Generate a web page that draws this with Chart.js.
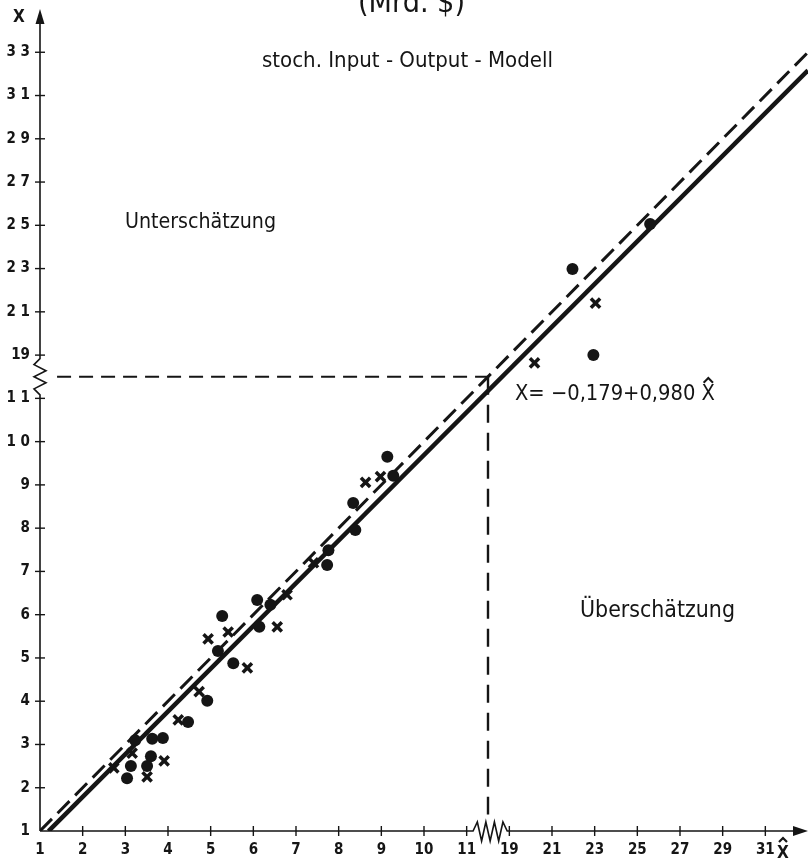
<!DOCTYPE html>
<html><head><meta charset="utf-8">
<script src="https://cdn.jsdelivr.net/npm/chart.js@4/dist/chart.umd.min.js"></script>
<style>html,body{margin:0;padding:0;background:#fff}#wrap{width:808px;height:864px;position:relative}</style>
</head><body><div id="wrap"><canvas id="c"></canvas></div>
<script>
// ---- data (original units, Mrd. $) ----
const xTickValues = [1,2,3,4,5,6,7,8,9,10,11,19,21,23,25,27,29,31];
const xTickLabels = ['1','2','3','4','5','6','7','8','9','10','11','19','21','23','25','27','29','31'];
const yTickValues = [1,2,3,4,5,6,7,8,9,10,11,19,21,23,25,27,29,31,33];
const yTickLabels = ['1','2','3','4','5','6','7','8','9','1 0','1 1','19','2 1','2 3','2 5','2 7','2 9','3 1','3 3'];

const dotXhat = [4.92,4.47,3.23,3.63,3.88,3.60,3.13,3.51,3.04,6.09,6.40,5.27,6.14,5.17,5.53,9.14,9.28,8.34,8.39,7.76,7.73,25.6,21.96,22.94];
const dotX    = [4.01,3.52,3.10,3.13,3.15,2.73,2.50,2.50,2.22,6.34,6.23,5.97,5.72,5.16,4.88,9.65,9.21,8.58,7.96,7.49,7.15,25.06,22.98,19.0];

const crossXhat = [4.73,4.24,3.16,3.91,2.73,3.51,6.79,6.56,5.41,4.94,5.86,8.98,8.63,7.41,23.04,20.18];
const crossX    = [4.22,3.57,2.80,2.62,2.46,2.25,6.46,5.72,5.60,5.44,4.77,9.19,9.06,7.20,21.4,18.64];

const regIntercept = -0.179;
const regSlope = 0.980;
const lineXhatRange = [1.2, 33];
const diagRange = [1, 33];

// broken axis: 1..11 at full scale, 19.. at half scale
function brk(v){ return v <= 15 ? v : 12 + (v - 19) / 2; }
const BREAK_T = 11.5;

const dotData = dotXhat.map((v,i)=>({x:brk(v), y:brk(dotX[i])}));
const crossData = crossXhat.map((v,i)=>({x:brk(v), y:brk(crossX[i])}));
const regData = lineXhatRange.map(v=>({x:brk(v), y:brk(regIntercept + regSlope*v)}));
const diagData = diagRange.map(v=>({x:brk(v), y:brk(v)}));

const INK = '#151515';
const tickFont = {family:"'DejaVu Sans Condensed','DejaVu Sans',sans-serif", size:15, weight:'bold'};
const textFam = "'DejaVu Sans Condensed','DejaVu Sans',sans-serif";

function fitText(ctx, str, x, baseline, width, weight){
  ctx.font = (weight||'') + ' 20px ' + textFam;
  const w = ctx.measureText(str).width;
  const size = 20 * width / w;
  ctx.font = (weight||'') + ' ' + size.toFixed(2) + 'px ' + textFam;
  ctx.textAlign = 'left'; ctx.textBaseline = 'alphabetic';
  ctx.fillText(str, x, baseline);
  return size;
}
function hat(ctx, cx, top, w, lw){
  ctx.save(); ctx.lineWidth = lw; ctx.lineJoin='miter';
  ctx.beginPath(); ctx.moveTo(cx - w/2, top + w*0.5); ctx.lineTo(cx, top); ctx.lineTo(cx + w/2, top + w*0.5); ctx.stroke();
  ctx.restore();
}

const decor = {
  id:'decor',
  beforeDatasetsDraw(chart){
    const {ctx, chartArea:ca} = chart;
    const xs = chart.scales.x, ys = chart.scales.y;
    const x0 = xs.getPixelForValue(1), y0 = ys.getPixelForValue(1);
    const yTop = ys.getPixelForValue(20);
    ctx.save();
    ctx.strokeStyle = INK; ctx.fillStyle = INK; ctx.lineWidth = 1.6; ctx.lineJoin='miter';
    // y axis with break
    const yA = ys.getPixelForValue(11.08), yB = ys.getPixelForValue(11.92);
    ctx.beginPath(); ctx.moveTo(x0, y0); ctx.lineTo(x0, yA);
    const n = 6;
    for (let i=1;i<n;i++){ ctx.lineTo(x0 + (i%2 ? -6 : 6), yA + (yB-yA)*i/n); }
    ctx.lineTo(x0, yB); ctx.lineTo(x0, yTop + 10); ctx.stroke();
    // y arrow
    ctx.beginPath(); ctx.moveTo(x0, yTop); ctx.lineTo(x0-4.5, yTop+15); ctx.lineTo(x0+4.5, yTop+15); ctx.closePath(); ctx.fill();
    // x axis with break
    const xA = xs.getPixelForValue(11.15), xB = xs.getPixelForValue(11.95);
    ctx.beginPath(); ctx.moveTo(x0, y0); ctx.lineTo(xA, y0);
    const m = 8;
    for (let i=1;i<m;i++){ ctx.lineTo(xA + (xB-xA)*i/m, y0 + (i%2 ? -9 : 10)); }
    ctx.lineTo(xB, y0); ctx.lineTo(ca.right - 10, y0); ctx.stroke();
    // x arrow
    ctx.beginPath(); ctx.moveTo(ca.right, y0); ctx.lineTo(ca.right-15, y0-5); ctx.lineTo(ca.right-15, y0+5); ctx.closePath(); ctx.fill();
    // crossing ticks
    ctx.lineWidth = 1.4;
    xs.ticks.forEach(t=>{ if (t.value<=1) return; const p = xs.getPixelForValue(t.value); ctx.beginPath(); ctx.moveTo(p, y0-5); ctx.lineTo(p, y0+5); ctx.stroke(); });
    ys.ticks.forEach(t=>{ if (t.value<=1) return; const p = ys.getPixelForValue(t.value); ctx.beginPath(); ctx.moveTo(x0-5, p); ctx.lineTo(x0+5, p); ctx.stroke(); });
    // guide lines at the break
    const bx = xs.getPixelForValue(BREAK_T), by = ys.getPixelForValue(BREAK_T);
    ctx.lineWidth = 2; ctx.setLineDash([14, 8]);
    ctx.beginPath(); ctx.moveTo(xs.getPixelForValue(1.4), by); ctx.lineTo(bx, by); ctx.stroke();
    ctx.lineWidth = 2.4; ctx.setLineDash([18, 10]);
    ctx.beginPath(); ctx.moveTo(bx, by); ctx.lineTo(bx, ys.getPixelForValue(1.38)); ctx.stroke();
    ctx.setLineDash([]);
    ctx.restore();
  },
  afterDraw(chart){
    const {ctx} = chart;
    ctx.save(); ctx.fillStyle = INK; ctx.strokeStyle = INK;
    fitText(ctx, '(Mrd. $)', 358, 12, 107, '');
    fitText(ctx, 'stoch. Input - Output - Modell', 262, 67, 291, '');
    fitText(ctx, 'Unterschätzung', 125, 228, 151, '');
    fitText(ctx, 'Überschätzung', 580, 617, 155, '');
    // equation
    const eq = 'X= \u22120,179+0,980 X';
    fitText(ctx, eq, 515, 400, 200, '');
    const w = ctx.measureText('X').width;
    hat(ctx, 715 - w/2, 378, w*0.7, 2);
    // axis titles
    ctx.font = 'bold 17px ' + textFam; ctx.textAlign='center'; ctx.textBaseline='alphabetic';
    ctx.fillText('X', 19, 22);
    ctx.fillText('X', 783, 858);
    hat(ctx, 783, 838, 8, 2.2);
    ctx.restore();
  }
};

new Chart(document.getElementById('c'), {
  type:'scatter',
  data:{datasets:[
    {label:'Regression', data:regData, showLine:true, borderColor:INK, borderWidth:4.5, pointRadius:0, order:3},
    {label:'X = X̂', data:diagData, showLine:true, borderColor:INK, borderWidth:3, borderDash:[17,8], pointRadius:0, order:3},
    {label:'dots', data:dotData, pointStyle:'circle', pointRadius:6, backgroundColor:INK, borderColor:INK, borderWidth:0, order:1},
    {label:'crosses', data:crossData, pointStyle:'crossRot', pointRadius:6.5, borderColor:INK, borderWidth:3.5, order:1}
  ]},
  options:{
    responsive:true, maintainAspectRatio:false, animation:false,
    layout:{autoPadding:false, padding:{top:9, right:0, left:0, bottom:0}},
    plugins:{legend:{display:false}, tooltip:{enabled:false}},
    scales:{
      x:{type:'linear', min:1, max:19,
        afterBuildTicks:s=>{ s.ticks = xTickValues.map(v=>({value:brk(v)})); },
        afterFit:s=>{ s.height = 33; s.paddingLeft = 0; s.paddingRight = 0; s.paddingTop = 0; s.paddingBottom = 0; },
        ticks:{callback:(v,i)=>xTickLabels[i], autoSkip:false, maxRotation:0, font:tickFont, color:INK, padding:10},
        grid:{display:false, drawTicks:false}, border:{display:false}},
      y:{type:'linear', min:1, max:20,
        afterBuildTicks:s=>{ s.ticks = yTickValues.map(v=>({value:brk(v)})); },
        afterFit:s=>{ s.width = 40; s.paddingTop = 0; s.paddingBottom = 0; s.paddingLeft = 0; s.paddingRight = 0; },
        ticks:{callback:(v,i)=>yTickLabels[i], autoSkip:false, font:tickFont, color:INK, padding:10},
        grid:{display:false, drawTicks:false}, border:{display:false}}
    }
  },
  plugins:[decor]
});
</script></body></html>
